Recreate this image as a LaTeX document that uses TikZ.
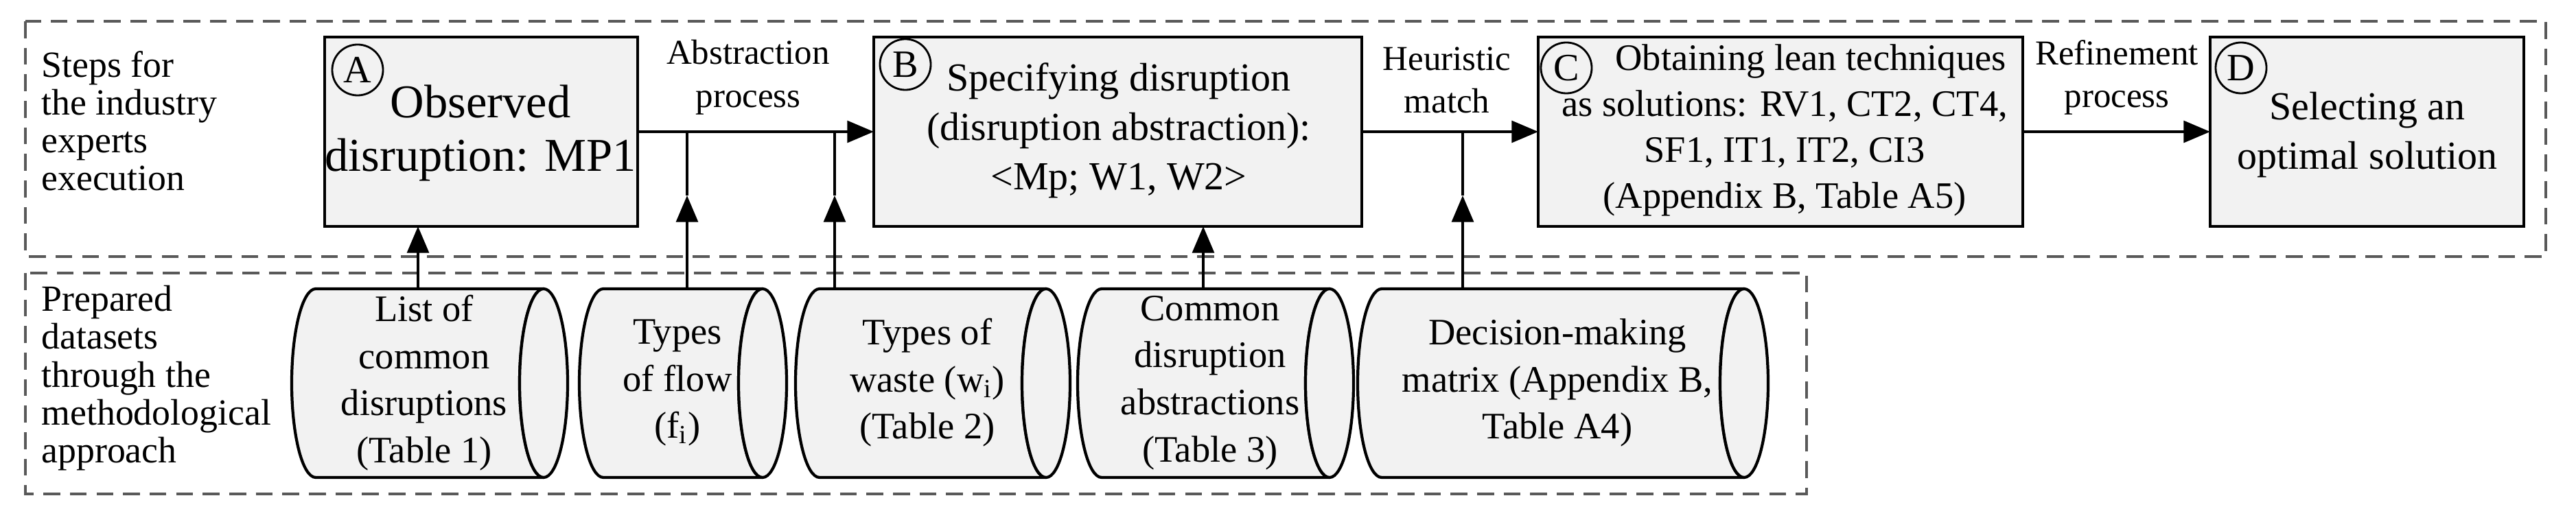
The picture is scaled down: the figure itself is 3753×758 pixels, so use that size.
\documentclass[tikz,border=0pt]{standalone}
\usepackage{fontspec}
\setmainfont{Liberation Serif}
\usetikzlibrary{arrows.meta}
\begin{document}
\begin{tikzpicture}[x=0.01cm,y=-0.01cm,
  box/.style={draw,line width=1.3pt,fill=gray!10},
  grp/.style={draw=black!65,line width=1.1pt,dash pattern=on 7pt off 4pt},
  cyl/.style={draw,line width=1.2pt,fill=gray!10},
  arr/.style={line width=1.2pt,-{Triangle[length=11pt,width=9pt]}},
  ln/.style={line width=1.2pt},
  circ/.style={draw,circle,line width=0.8pt,minimum size=0.74cm,inner sep=0pt,font=\fontsize{16}{18}\selectfont},
  btxt/.style={align=center,font=\fontsize{16.5}{20.5}\selectfont},
  ctxt/.style={align=center,font=\fontsize{15.5}{19.5}\selectfont},
  ltxt/.style={align=left,anchor=north west,font=\fontsize{15.3}{15.7}\selectfont},
  atxt/.style={align=center,font=\fontsize{14.5}{17.8}\selectfont}]
\useasboundingbox (0,0) rectangle (3753,758);
% group frames
\draw[grp] (37,31) rectangle (3709,374);
\draw[grp] (37,398) rectangle (2632,720);
\node[ltxt] (l1) at (48,62) {Steps for\\the industry\\experts\\execution};
\node[ltxt] (l2) at (48,404) {Prepared\\datasets\\through the\\methodological\\approach};
% boxes
\draw[box] (473,54) rectangle (929,330);
\draw[box] (1273,54) rectangle (1984,330);
\draw[box] (2241,54) rectangle (2947,330);
\draw[box] (3220,54) rectangle (3677,330);
\coordinate (Aw) at (473,192); \coordinate (Ae) at (929,192); \coordinate (As) at (609,330);
\coordinate (Bw) at (1273,192); \coordinate (Be) at (1984,192); \coordinate (Bs) at (1753,330);
\coordinate (Cw) at (2241,192); \coordinate (Ce) at (2947,192);
\coordinate (Dw) at (3220,192);
\node[circ] (cA) at (521,102) {A};
\node[circ] (cB) at (1319,94) {B};
\node[circ] (cC) at (2282,99) {C};
\node[circ] (cD) at (3265,99) {D};
\node[btxt,font=\fontsize{19.5}{22}\selectfont] (tA) at (700,194) {Observed\\disruption: MP1};
\node[btxt] (tB) at (1630,190) {Specifying disruption\\(disruption abstraction):\\<Mp; W1, W2>};
\node[btxt,font=\fontsize{15.5}{19}\selectfont] (tC) at (2600,190) {\hspace*{1.4em}Obtaining lean techniques\\as solutions: RV1, CT2, CT4,\\SF1, IT1, IT2, CI3\\(Appendix B, Table A5)};
\node[btxt] (tD) at (3449,197) {Selecting an\\optimal solution};
% main arrows
\draw[arr] (Ae) -- (Bw);
\draw[arr] (Be) -- (Cw);
\draw[arr] (Ce) -- (Dw);
\node[atxt] (a1) at (1090,113) {Abstraction\\process};
\node[atxt] (a2) at (2108,117) {Heuristic\\match};
\node[atxt] (a3) at (3084,113) {Refinement\\process};
% cylinders
\newcommand\mycyl[4]{% left-top x, right x, name, text
  \path[cyl] (#1,421) -- (#2,421) arc[start angle=270,end angle=90,x radius=35,y radius=137.5] -- (#1,696)
     arc[start angle=90,end angle=270,x radius=35,y radius=137.5] -- cycle;
  \draw[cyl] (#2,558.5) ellipse[x radius=35,y radius=137.5];
  \node[ctxt] (#3) at ({(#1+#2)/2-8},558) {#4};
  \coordinate (#3n) at ({(#1+#2)/2},421);}
\mycyl{460}{792}{d1}{List of\\common\\disruptions\\(Table 1)}
\mycyl{879}{1111}{d2}{Types\\of flow\\(f\textsubscript{i})}
\mycyl{1194}{1524}{d3}{Types of\\waste (w\textsubscript{i})\\(Table 2)}
\mycyl{1605}{1937}{d4}{Common\\disruption\\abstractions\\(Table 3)}
\mycyl{2013}{2541}{d5}{Decision-making\\matrix (Appendix B,\\Table A4)}
% feeders
\coordinate (p2) at (1001,421); \coordinate (m2) at (1001,285); \coordinate (q2) at (1001,192);
\coordinate (p3) at (1216,421); \coordinate (m3) at (1216,285); \coordinate (q3) at (1216,192);
\coordinate (p5) at (2131,421); \coordinate (m5) at (2131,285); \coordinate (q5) at (2131,192);
\coordinate (p1) at (609,421); \coordinate (p4) at (1753,421);
\draw[arr] (p1) -- (As);
\draw[arr] (p4) -- (Bs);
\draw[arr] (p2) -- (m2); \draw[ln] (m2) -- (q2);
\draw[arr] (p3) -- (m3); \draw[ln] (m3) -- (q3);
\draw[arr] (p5) -- (m5); \draw[ln] (m5) -- (q5);
\end{tikzpicture}
\end{document}
